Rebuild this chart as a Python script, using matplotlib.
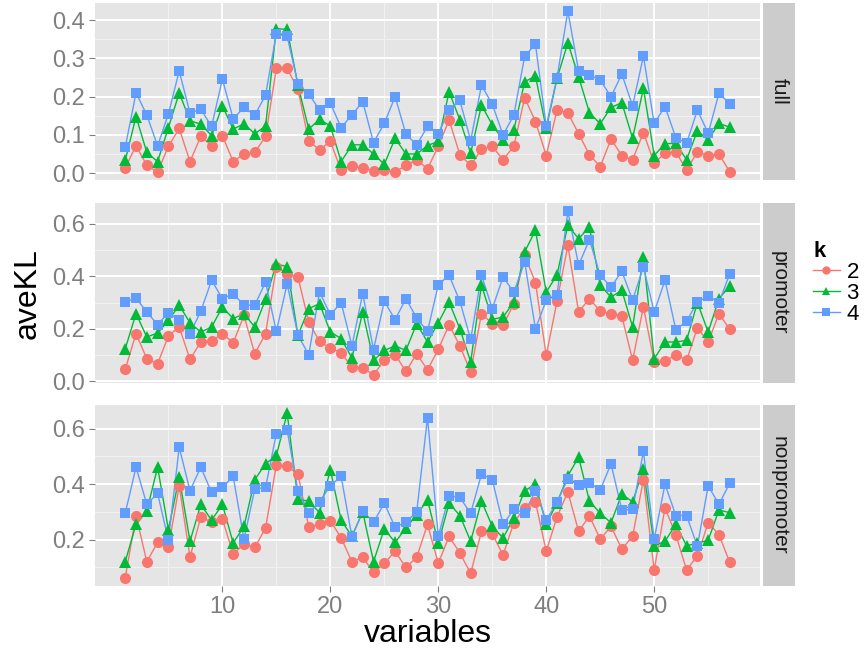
import numpy as np
import matplotlib
matplotlib.use("Agg")
import matplotlib.pyplot as plt
from matplotlib.lines import Line2D

plt.rcParams['font.family'] = ['Liberation Sans', 'DejaVu Sans']

variables = list(range(1, 58))
panels = ['full', 'promoter', 'nonpromoter']
k_labels = ['2', '3', '4']

full_k2 = [0.013, 0.072, 0.020, 0.003, 0.070, 0.117, 0.030, 0.096, 0.072, 0.098,
           0.030, 0.050, 0.054, 0.096, 0.274, 0.274, 0.219, 0.084, 0.061, 0.083,
           0.007, 0.019, 0.013, 0.006, 0.009, 0.003, 0.020, 0.035, 0.011, 0.070,
           0.139, 0.048, 0.020, 0.063, 0.070, 0.035, 0.070, 0.197, 0.135, 0.046,
           0.165, 0.158, 0.103, 0.048, 0.017, 0.089, 0.046, 0.035, 0.106, 0.026,
           0.052, 0.055, 0.009, 0.055, 0.046, 0.050, 0.003]
full_k3 = [0.033, 0.148, 0.054, 0.030, 0.119, 0.210, 0.137, 0.128, 0.098, 0.176,
           0.115, 0.129, 0.103, 0.123, 0.378, 0.376, 0.230, 0.115, 0.141, 0.123,
           0.030, 0.074, 0.074, 0.050, 0.023, 0.091, 0.050, 0.050, 0.072, 0.083,
           0.213, 0.139, 0.052, 0.178, 0.126, 0.087, 0.113, 0.239, 0.254, 0.117,
           0.248, 0.341, 0.252, 0.158, 0.129, 0.172, 0.184, 0.091, 0.222, 0.046,
           0.077, 0.078, 0.035, 0.111, 0.087, 0.130, 0.120]
full_k4 = [0.067, 0.210, 0.152, 0.071, 0.155, 0.267, 0.157, 0.167, 0.122, 0.246,
           0.142, 0.172, 0.152, 0.204, 0.365, 0.358, 0.233, 0.207, 0.165, 0.183,
           0.119, 0.152, 0.187, 0.080, 0.130, 0.200, 0.102, 0.074, 0.122, 0.103,
           0.165, 0.190, 0.085, 0.230, 0.180, 0.100, 0.152, 0.306, 0.337, 0.122,
           0.250, 0.424, 0.267, 0.257, 0.243, 0.200, 0.259, 0.176, 0.306, 0.130,
           0.174, 0.093, 0.078, 0.165, 0.104, 0.209, 0.181]

promoter_k2 = [0.046, 0.182, 0.086, 0.067, 0.173, 0.207, 0.084, 0.150, 0.154, 0.182,
               0.147, 0.251, 0.105, 0.182, 0.436, 0.410, 0.397, 0.226, 0.152, 0.127,
               0.108, 0.055, 0.051, 0.025, 0.080, 0.102, 0.038, 0.105, 0.044, 0.122,
               0.216, 0.135, 0.036, 0.258, 0.220, 0.213, 0.296, 0.480, 0.376, 0.099,
               0.305, 0.518, 0.264, 0.315, 0.267, 0.258, 0.249, 0.080, 0.283, 0.074,
               0.076, 0.102, 0.080, 0.204, 0.150, 0.258, 0.198]
promoter_k3 = [0.124, 0.258, 0.169, 0.184, 0.232, 0.290, 0.223, 0.188, 0.207, 0.283,
               0.239, 0.258, 0.207, 0.312, 0.448, 0.436, 0.175, 0.277, 0.296, 0.188,
               0.163, 0.089, 0.264, 0.080, 0.118, 0.135, 0.118, 0.220, 0.150, 0.223,
               0.302, 0.200, 0.074, 0.366, 0.236, 0.245, 0.302, 0.493, 0.575, 0.340,
               0.406, 0.594, 0.543, 0.588, 0.366, 0.321, 0.347, 0.207, 0.474, 0.086,
               0.150, 0.150, 0.156, 0.300, 0.188, 0.315, 0.363]
promoter_k4 = [0.302, 0.317, 0.264, 0.216, 0.262, 0.232, 0.182, 0.267, 0.385, 0.315,
               0.334, 0.290, 0.290, 0.378, 0.190, 0.372, 0.175, 0.102, 0.340, 0.254,
               0.300, 0.135, 0.334, 0.121, 0.305, 0.235, 0.315, 0.241, 0.190, 0.368,
               0.404, 0.305, 0.160, 0.404, 0.277, 0.397, 0.340, 0.455, 0.200, 0.309,
               0.330, 0.648, 0.442, 0.540, 0.404, 0.359, 0.419, 0.309, 0.436, 0.264,
               0.385, 0.197, 0.229, 0.302, 0.325, 0.300, 0.410]

nonpromoter_k2 = [0.063, 0.287, 0.121, 0.190, 0.172, 0.394, 0.137, 0.282, 0.263, 0.275,
                  0.148, 0.185, 0.172, 0.242, 0.469, 0.464, 0.436, 0.246, 0.255, 0.269,
                  0.206, 0.121, 0.137, 0.082, 0.115, 0.158, 0.100, 0.137, 0.255, 0.115,
                  0.212, 0.152, 0.079, 0.230, 0.221, 0.145, 0.261, 0.315, 0.336, 0.158,
                  0.282, 0.372, 0.230, 0.285, 0.202, 0.248, 0.166, 0.212, 0.416, 0.091,
                  0.315, 0.218, 0.091, 0.142, 0.261, 0.218, 0.118]
nonpromoter_k3 = [0.121, 0.255, 0.303, 0.461, 0.236, 0.424, 0.194, 0.327, 0.270, 0.327,
                  0.188, 0.248, 0.416, 0.473, 0.503, 0.655, 0.345, 0.339, 0.297, 0.452,
                  0.270, 0.212, 0.300, 0.121, 0.239, 0.190, 0.242, 0.290, 0.343, 0.188,
                  0.331, 0.287, 0.194, 0.339, 0.248, 0.206, 0.279, 0.376, 0.400, 0.255,
                  0.333, 0.430, 0.497, 0.339, 0.295, 0.261, 0.364, 0.336, 0.455, 0.178,
                  0.194, 0.255, 0.178, 0.188, 0.198, 0.307, 0.297]
nonpromoter_k4 = [0.295, 0.461, 0.327, 0.367, 0.198, 0.533, 0.376, 0.461, 0.370, 0.388,
                  0.428, 0.202, 0.382, 0.388, 0.582, 0.594, 0.376, 0.297, 0.337, 0.394,
                  0.428, 0.210, 0.303, 0.263, 0.331, 0.245, 0.263, 0.300, 0.639, 0.212,
                  0.358, 0.352, 0.295, 0.436, 0.416, 0.255, 0.309, 0.297, 0.376, 0.270,
                  0.336, 0.418, 0.396, 0.404, 0.379, 0.473, 0.307, 0.309, 0.518, 0.202,
                  0.400, 0.287, 0.287, 0.176, 0.394, 0.327, 0.404]

data = {
    'full': [full_k2, full_k3, full_k4],
    'promoter': [promoter_k2, promoter_k3, promoter_k4],
    'nonpromoter': [nonpromoter_k2, nonpromoter_k3, nonpromoter_k4],
}
y_major = {
    'full': [0.0, 0.1, 0.2, 0.3, 0.4],
    'promoter': [0.0, 0.2, 0.4, 0.6],
    'nonpromoter': [0.2, 0.4, 0.6],
}
y_minor = {
    'full': [0.05, 0.15, 0.25, 0.35],
    'promoter': [0.1, 0.3, 0.5],
    'nonpromoter': [0.1, 0.3, 0.5],
}
x_major = [10, 20, 30, 40, 50]
x_minor = [5, 15, 25, 35, 45, 55]

colors = ['#F8766D', '#00BA38', '#619CFF']
markers = ['o', '^', 's']
msizes = [8, 8.5, 7.5]

W, H = 864, 657
fig = plt.figure(figsize=(W / 100, H / 100), dpi=100)

left, right = 95, 760
strip_w = 32
panel_px = [(3, 180), (203, 383), (405, 586)]

for i, name in enumerate(panels):
    top, bot = panel_px[i]
    ax = fig.add_axes([left / W, 1 - bot / H, (right - left) / W, (bot - top) / H])
    ax.set_facecolor('#E5E5E5')
    for s in ax.spines.values():
        s.set_visible(False)

    series = data[name]
    allv = np.concatenate([np.array(v) for v in series])
    lo, hi = allv.min(), allv.max()
    pad = (hi - lo) * 0.05
    ax.set_ylim(lo - pad, hi + pad)
    ax.set_xlim(1 - 56 * 0.05, 57 + 56 * 0.05)

    ax.set_yticks(y_major[name])
    ax.set_yticks(y_minor[name], minor=True)
    ax.set_xticks(x_major)
    ax.set_xticks(x_minor, minor=True)
    ax.grid(which='major', color='white', linewidth=1.4)
    ax.grid(which='minor', color='#F2F2F2', linewidth=0.7)
    ax.set_axisbelow(True)

    ax.set_yticklabels(['%.1f' % v for v in y_major[name]])
    ax.tick_params(axis='y', which='major', labelsize=17, labelcolor='#7F7F7F',
                   color='#7F7F7F', length=4, width=0.8, pad=3)
    ax.tick_params(which='minor', length=0)
    if i == 2:
        ax.tick_params(axis='x', which='major', labelsize=17, labelcolor='#7F7F7F',
                       color='#7F7F7F', length=4, width=0.8, pad=3)
    else:
        ax.tick_params(axis='x', which='major', length=0, labelbottom=False)

    for vals, c in zip(series, colors):
        ax.plot(variables, vals, color=c, linewidth=1.0, zorder=2)
    for vals, c, m, ms in zip(series, colors, markers, msizes):
        ax.plot(variables, vals, linestyle='none', marker=m, color=c,
                markersize=ms, markeredgewidth=0, zorder=3)

    sax = fig.add_axes([(right + 3) / W, 1 - bot / H, strip_w / W, (bot - top) / H])
    sax.set_facecolor('#CCCCCC')
    sax.set_xticks([])
    sax.set_yticks([])
    for s in sax.spines.values():
        s.set_visible(False)
    sax.text(0.5, 0.5, name, rotation=270, ha='center', va='center',
             fontsize=15, color='#1A1A1A', transform=sax.transAxes)

fig.text(28 / W, 1 - 294 / H, 'aveKL', rotation=90, ha='center', va='center',
         fontsize=23, color='black')
fig.text((left + right) / 2 / W, 1 - 634 / H, 'variables', ha='center', va='center',
         fontsize=23, color='black')

handles = [Line2D([0], [0], color=c, marker=m, markersize=ms * 0.75, linewidth=1.0,
                  markeredgewidth=0) for c, m, ms in zip(colors, markers, msizes)]
leg = fig.legend(handles, k_labels, title='k', loc='upper left',
                 bbox_to_anchor=(802 / W, 1 - 230 / H), frameon=False,
                 fontsize=16, title_fontsize=16, handlelength=1.2,
                 handletextpad=0.3, labelspacing=0.0, borderpad=0.0)
leg.get_title().set_fontweight('bold')
leg._legend_box.align = 'left'

fig.savefig('out.png', dpi=100)
